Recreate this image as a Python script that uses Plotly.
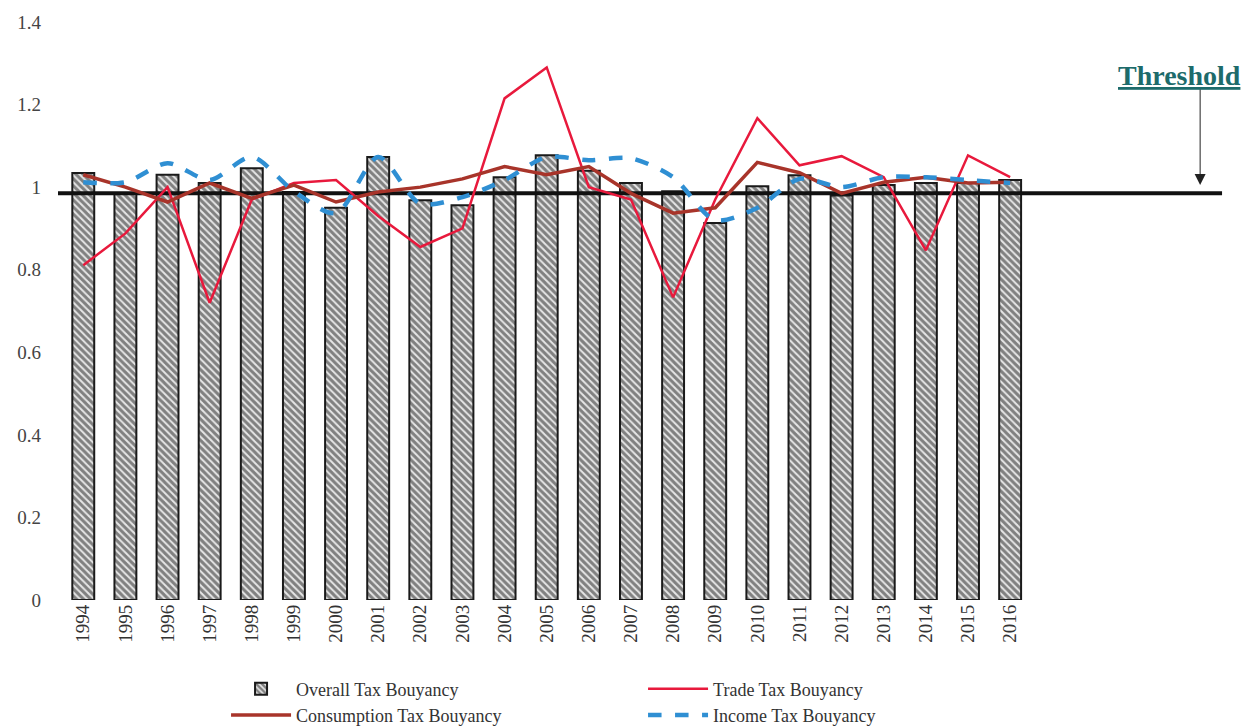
import plotly.graph_objects as go

years = list(range(1994, 2017))
overall = [1.034, 0.985, 1.030, 1.010, 1.046, 0.988, 0.950, 1.073, 0.968, 0.956, 1.024, 1.077,
           1.040, 1.010, 0.990, 0.913, 1.002, 1.029, 0.980, 1.005, 1.010, 1.010, 1.017]
trade = [0.811, 0.888, 1.000, 0.720, 0.970, 1.010, 1.017, 0.930, 0.855, 0.900, 1.215, 1.290,
         1.000, 0.970, 0.733, 0.970, 1.167, 1.053, 1.075, 1.024, 0.847, 1.077, 1.024]
consumption = [1.030, 1.000, 0.964, 1.010, 0.973, 1.005, 0.964, 0.988, 1.000, 1.020, 1.050, 1.030,
               1.050, 0.985, 0.937, 0.950, 1.060, 1.035, 0.985, 1.012, 1.024, 1.010, 1.012]
income = [1.012, 1.012, 1.058, 1.017, 1.073, 0.990, 0.937, 1.073, 0.960, 0.976, 1.017, 1.073,
          1.065, 1.070, 1.024, 0.920, 0.950, 1.020, 1.000, 1.024, 1.024, 1.017, 1.010]
THRESHOLD = 0.985
yticks = [0, 0.2, 0.4, 0.6, 0.8, 1, 1.2, 1.4]

XRANGE = [1993.4, 2021.1]
LINE_END = 2021.03
FONT = "Liberation Serif"

fig = go.Figure()
fig.add_trace(go.Bar(
    x=years, y=overall, name="Overall Tax Bouyancy", width=0.52,
    marker=dict(color="#e6e6e6", line=dict(color="#1a1a1a", width=2),
                pattern=dict(shape="\\", fgcolor="#1a1a1a", bgcolor="#e6e6e6",
                             size=5, solidity=0.6)),
))
fig.add_trace(go.Scatter(
    x=[XRANGE[0], LINE_END], y=[THRESHOLD, THRESHOLD], mode="lines", showlegend=False,
    line=dict(color="#111111", width=4), hoverinfo="skip",
))
fig.add_trace(go.Scatter(
    x=years, y=trade, name="Trade Tax Bouyancy", mode="lines",
    line=dict(color="#e8193c", width=2.5),
))
fig.add_trace(go.Scatter(
    x=years, y=consumption, name="Consumption Tax Bouyancy", mode="lines",
    line=dict(color="#a8342a", width=3.5),
))
fig.add_trace(go.Scatter(
    x=years, y=income, name="Income Tax Bouyancy", mode="lines",
    line=dict(color="#2f8fd3", width=4.5, dash="dash", shape="spline", smoothing=0.8),
))

fig.add_annotation(
    x=2020.03, y=1.271, xref="x", yref="y", text="<b><u>Threshold</u></b>",
    showarrow=False, font=dict(family=FONT, size=28, color="#1d6b6b"),
)
fig.add_annotation(
    x=2020.51, y=1.005, xref="x", yref="y", ax=2020.51, ay=1.24, axref="x", ayref="y",
    text="", showarrow=True, arrowhead=2, arrowsize=2.2, arrowwidth=1, arrowcolor="#222222",
)

fig.update_layout(
    width=1247, height=720,
    margin=dict(l=50, r=30, t=14, b=128, autoexpand=False),
    plot_bgcolor="white", paper_bgcolor="white",
    font=dict(family=FONT, size=18, color="#333333"),
    showlegend=True,
    legend=dict(orientation="h", x=0.144, y=-0.122, xanchor="left", yanchor="top",
                entrywidth=342, itemwidth=60, traceorder="normal",
                font=dict(family=FONT, size=18, color="#333333"),
                tracegroupgap=0),
    xaxis=dict(range=XRANGE, tickmode="array", tickvals=years, automargin=False,
               ticktext=[str(y) for y in years], tickangle=-90,
               showgrid=False, zeroline=False, showline=False, ticks="",
               tickfont=dict(family=FONT, size=19, color="#333333")),
    yaxis=dict(range=[0, 1.4], tickmode="array", tickvals=yticks, automargin=False,
               showgrid=False, zeroline=False, showline=False, ticks="",
               ticklabelstandoff=16,
               tickfont=dict(family=FONT, size=19, color="#444444")),
    bargap=0.48,
)

fig.write_html("out.html")
